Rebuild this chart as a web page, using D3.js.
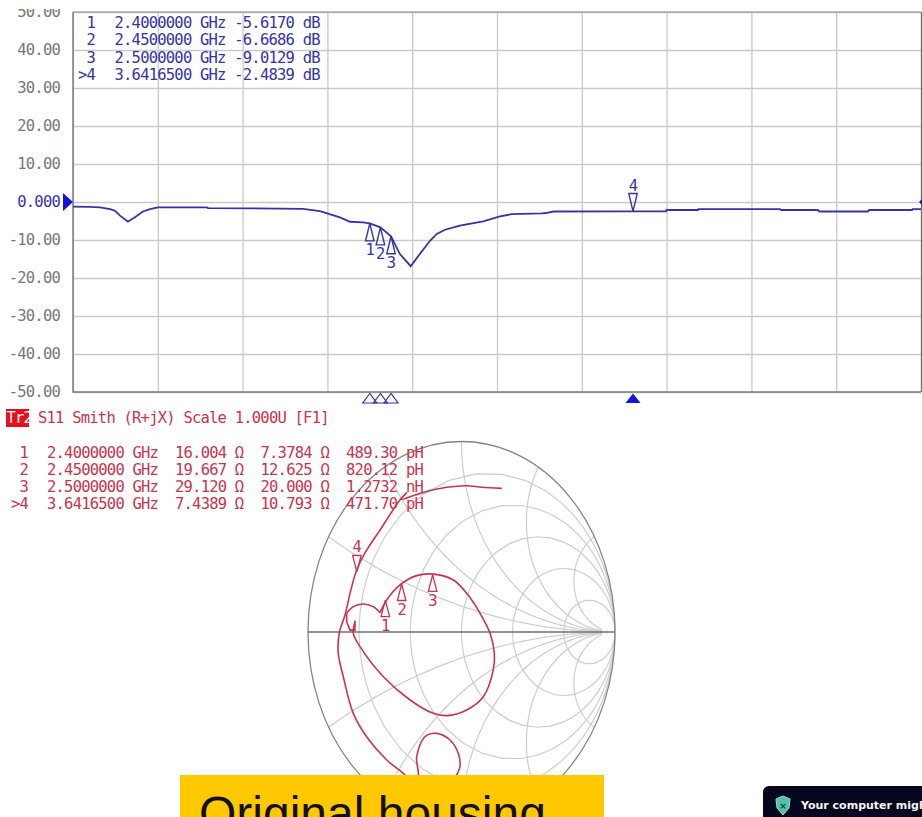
<!DOCTYPE html>
<html>
<head>
<meta charset="utf-8">
<script src="https://cdn.jsdelivr.net/npm/d3@7"></script>
<style>
  html, body { margin: 0; padding: 0; background: #fff; overflow: hidden; }
  text { font-family: "DejaVu Sans Mono", monospace; font-size: 15.5px; letter-spacing: -0.78px; white-space: pre; }
</style>
</head>
<body>
<div id="container"></div>
<script>
// top trace: S11 log mag
const traceFreq = [1, 1.08, 1.127, 1.175, 1.198, 1.222, 1.259, 1.292, 1.33, 1.363, 1.4, 1.632, 1.637, 2.085, 2.165, 2.259, 2.307, 2.368, 2.4, 2.45, 2.5, 2.542, 2.593, 2.637, 2.684, 2.716, 2.755, 2.825, 2.935, 3.014, 3.069, 3.21, 3.23, 3.266, 3.6417, 3.797, 3.8, 3.948, 3.95, 4.335, 4.34, 4.514, 4.52, 4.75, 4.755, 4.958, 4.96, 5];
const traceDb = [-1.2, -1.3, -1.42, -1.85, -2.3, -3.6, -5.2, -4, -2.5, -1.85, -1.42, -1.42, -1.6, -1.8, -2.4, -4.05, -5.2, -5.35, -5.617, -6.669, -9.013, -13.7, -16.9, -13.6, -10.2, -8.4, -7.3, -6.2, -5.1, -3.8, -3.2, -3.0, -2.9, -2.5, -2.484, -2.47, -2.1, -2.1, -1.85, -1.85, -2.1, -2.1, -2.5, -2.5, -2.1, -2.1, -1.85, -1.85];
const xTicks = [1, 1.4, 1.8, 2.2, 2.6, 3, 3.4, 3.8, 4.2, 4.6, 5];
const yTicks = [50, 40, 30, 20, 10, 0, -10, -20, -30, -40, -50];
const yLabels = ["50.00", "40.00", "30.00", "20.00", "10.00", "0.000", "-10.00", "-20.00", "-30.00", "-40.00", "-50.00"];

// markers
const markerNames = ["1", "2", "3", ">4"];
const markerFreq = [2.4, 2.45, 2.5, 3.64165];
const markerDb = [-5.617, -6.6686, -9.0129, -2.4839];
const markerR = [16.004, 19.667, 29.12, 7.4389];
const markerX = [7.3784, 12.625, 20, 10.793];
const markerRText = ["16.004", "19.667", "29.120", "7.4389"];
const markerXText = ["7.3784", "12.625", "20.000", "10.793"];
const markerL = ["489.30 pH", "820.12 pH", "1.2732 nH", "471.70 pH"];

// smith chart trace, read as reflection coefficient (re, im)
const outerRe = [0.262, 0.132, 0.034, -0.096, -0.216, -0.303, -0.39, -0.357, -0.401, -0.531, -0.629, -0.683, -0.726, -0.759, -0.796, -0.803, -0.77, -0.705, -0.618, -0.487, -0.368, -0.329, -0.296, -0.281, -0.292, -0.238, -0.162, -0.075, -0.021, -0.01, -0.031, -0.075];
const outerIm = [0.754, 0.76, 0.768, 0.76, 0.74, 0.719, 0.697, 0.731, 0.693, 0.535, 0.415, 0.325, 0.203, 0.089, -0.005, -0.11, -0.235, -0.427, -0.55, -0.672, -0.751, -0.793, -0.777, -0.751, -0.655, -0.55, -0.532, -0.567, -0.637, -0.707, -0.751, -0.829];
const innerRe = [-0.694, -0.705, -0.661, -0.509, -0.335, -0.184, -0.096, 0.034, 0.142, 0.207, 0.214, 0.186, 0.121, 0.034, -0.053, -0.184, -0.292, -0.401, -0.487, -0.531];
const innerIm = [0.052, -0.007, -0.077, -0.235, -0.357, -0.427, -0.439, -0.409, -0.34, -0.199, -0.112, -0.007, 0.098, 0.203, 0.273, 0.304, 0.296, 0.247, 0.168, 0.101];
const humpRe = [-0.531, -0.575, -0.64, -0.705, -0.748];
const humpIm = [0.101, 0.133, 0.147, 0.133, 0.098];
const notchRe = [-0.694, -0.694, -0.726, -0.748, -0.748];
const notchIm = [0.06, 0.01, 0.01, 0.054, 0.098];

// smith grid
const rCircles = [0.2, 0.5, 1, 2, 5];
const xArcs = [0.268, 0.577, 1, 1.732, 3.732];

const width = 922;
const height = 817;

const blue = "#3434a8";
const red = "#c9344c";
const gray = "#c9c9c9";

const svg = d3.select("#container")
  .append("svg")
  .attr("width", width)
  .attr("height", height)
  .style("display", "block");

/* top chart */
const xScale = d3.scaleLinear().domain([1, 5]).range([73, 921]);
const yScale = d3.scaleLinear().domain([-50, 50]).range([392, 12]);

svg.append("g")
  .attr("transform", "translate(0,392)")
  .call(d3.axisBottom(xScale).tickValues(xTicks).tickSize(-380).tickFormat(""))
  .call(g => g.select(".domain").remove())
  .selectAll("line").attr("stroke", gray).attr("stroke-width", 1.3);

svg.append("g")
  .attr("transform", "translate(73,0)")
  .call(d3.axisLeft(yScale).tickValues(yTicks).tickSize(-848).tickPadding(13).tickFormat((d, i) => yLabels[i]))
  .call(g => g.select(".domain").remove())
  .call(g => g.selectAll("line").attr("stroke", gray).attr("stroke-width", 1.3))
  .call(g => g.selectAll("text").attr("fill", d => d === 0 ? blue : "#777"));

// frame
svg.append("path")
  .attr("d", d3.line()([[xScale(1), yScale(50)], [xScale(1), yScale(-50)], [xScale(5), yScale(-50)]]))
  .attr("fill", "none").attr("stroke", "#7d7d7d").attr("stroke-width", 1.5);
svg.append("line")
  .attr("x1", xScale(1)).attr("x2", xScale(5)).attr("y1", yScale(50)).attr("y2", yScale(50))
  .attr("stroke", "#8c8c8c").attr("stroke-width", 1.2);
svg.append("line")
  .attr("x1", xScale(5) + 0.5).attr("x2", xScale(5) + 0.5).attr("y1", yScale(50)).attr("y2", yScale(-50))
  .attr("stroke", "#6e6e6e").attr("stroke-width", 1.2);

// trace
const traceLine = d3.line()
  .x((d, i) => xScale(traceFreq[i]))
  .y(d => yScale(d));
svg.append("path")
  .attr("d", traceLine(traceDb))
  .attr("fill", "none").attr("stroke", blue).attr("stroke-width", 1.8);

// zero reference arrows
svg.append("path")
  .attr("d", d3.line()([[63, yScale(0) - 9], [73, yScale(0)], [63, yScale(0) + 9]]))
  .attr("fill", "#1414dc");
svg.append("path")
  .attr("d", d3.line()([[922, yScale(0) - 3], [919, yScale(0)], [922, yScale(0) + 3]]))
  .attr("fill", "#1414dc");

function triangle(cx, apexY, w, h) {
  return d3.line()([[cx, apexY], [cx - w / 2, apexY + h], [cx + w / 2, apexY + h]]) + "Z";
}

// markers on the trace
markerFreq.forEach((f, i) => {
  const cx = xScale(f);
  const cy = yScale(markerDb[i]);
  const up = i < 3;
  const h = up ? 17.5 : -18;
  svg.append("path")
    .attr("d", triangle(cx, cy, 8.5, h))
    .attr("fill", "none").attr("stroke", blue).attr("stroke-width", 1.4);
  svg.append("text")
    .attr("x", cx).attr("y", up ? cy + h + 9 : cy + h - 8)
    .attr("dy", "0.36em").attr("text-anchor", "middle")
    .attr("fill", blue)
    .text(markerNames[i].replace(">", ""));
  // small ones under the plot
  svg.append("path")
    .attr("d", triangle(cx, 393.5, up ? 14 : 15, 9.5))
    .attr("fill", up ? "none" : "#1414dc")
    .attr("stroke", up ? blue : "none").attr("stroke-width", 1.2);
});

// blue marker table
const blueRows = svg.append("g").attr("fill", blue);
markerFreq.forEach((f, i) => {
  const y = 22.7 + i * 17.2;
  blueRows.append("text").attr("x", 95).attr("y", y).attr("dy", "0.36em")
    .attr("text-anchor", "end").text(markerNames[i]);
  blueRows.append("text").attr("x", 114.5).attr("y", y).attr("dy", "0.36em")
    .text(f.toFixed(7) + " GHz " + markerDb[i].toFixed(4) + " dB");
});

/* smith chart */
const reScale = d3.scaleLinear().domain([-1, 1]).range([308, 615]);
const imScale = d3.scaleLinear().domain([1, -1]).range([441.5, 822.5]);

// z = r + jx -> reflection coefficient
function gamma(r, x) {
  const d = (r + 1) * (r + 1) + x * x;
  return [(r * r + x * x - 1) / d, 2 * x / d];
}
const smithLine = d3.line()
  .x(d => reScale(d[0]))
  .y(d => imScale(d[1]));
const smithCurve = d3.line()
  .x(d => reScale(d[0]))
  .y(d => imScale(d[1]))
  .curve(d3.curveCatmullRom);

const gridG = svg.append("g").attr("fill", "none").attr("stroke", "#cdcdcd").attr("stroke-width", 1.2);

const sweep = d3.range(0, 1.0001, 0.01).map(t => t * t * t * 400);
rCircles.forEach(r => {
  gridG.append("path").attr("d", smithLine(sweep.map(x => gamma(r, x))));
  gridG.append("path").attr("d", smithLine(sweep.map(x => gamma(r, -x))));
});
xArcs.forEach(x => {
  const rs = d3.range(0, 1.0001, 0.01).map(t => t * t * t * 22);
  gridG.append("path").attr("d", smithLine(rs.map(r => gamma(r, x))));
  gridG.append("path").attr("d", smithLine(rs.map(r => gamma(r, -x))));
});

// outer circle and real axis
svg.append("ellipse")
  .attr("cx", reScale(0)).attr("cy", imScale(0))
  .attr("rx", reScale(1) - reScale(0)).attr("ry", imScale(-1) - imScale(0))
  .attr("fill", "none").attr("stroke", "#858585").attr("stroke-width", 1.3);
svg.append("line")
  .attr("x1", reScale(-1)).attr("x2", reScale(1)).attr("y1", imScale(0)).attr("y2", imScale(0))
  .attr("stroke", "#6f6f6f").attr("stroke-width", 1.3);

// red trace
const traceG = svg.append("g").attr("fill", "none").attr("stroke", red).attr("stroke-width", 1.6);
const pairs = (re, im) => re.map((v, i) => [v, im[i]]);
traceG.append("path").attr("d", smithCurve(pairs(outerRe, outerIm)));
traceG.append("path").attr("d", smithCurve(pairs(innerRe, innerIm)));
traceG.append("path").attr("d", smithCurve(pairs(humpRe, humpIm)));
traceG.append("path").attr("d", smithLine(pairs(notchRe, notchIm)));

// smith markers
markerR.forEach((r, i) => {
  const g = gamma(r / 50, markerX[i] / 50);
  const cx = reScale(g[0]);
  const cy = imScale(g[1]);
  const up = i < 3;
  const h = up ? 16.5 : -16.5;
  svg.append("path")
    .attr("d", triangle(cx, cy, 8.5, h))
    .attr("fill", "none").attr("stroke", red).attr("stroke-width", 1.3);
  svg.append("text")
    .attr("x", cx).attr("y", up ? cy + h + 9 : cy + h - 9)
    .attr("dy", "0.36em").attr("text-anchor", "middle")
    .attr("fill", red)
    .text(markerNames[i].replace(">", ""));
});

// red title
svg.append("rect").attr("x", 6).attr("y", 409).attr("width", 23).attr("height", 18).attr("fill", "#e8101c");
svg.append("text").attr("x", 6.5).attr("y", 417.5).attr("dy", "0.36em").attr("fill", "#fff").text("Tr2");
svg.append("text").attr("x", 38).attr("y", 417.5).attr("dy", "0.36em").attr("fill", red)
  .text("S11 Smith (R+jX) Scale 1.000U [F1]");

// red marker table
const redRows = svg.append("g").attr("fill", red);
markerFreq.forEach((f, i) => {
  const y = 452 + i * 17.3;
  redRows.append("text").attr("x", 28).attr("y", y).attr("dy", "0.36em")
    .attr("text-anchor", "end").text(markerNames[i]);
  redRows.append("text").attr("x", 47).attr("y", y).attr("dy", "0.36em")
    .text(f.toFixed(7) + " GHz");
  redRows.append("text").attr("x", 175).attr("y", y).attr("dy", "0.36em")
    .text(markerRText[i] + " Ω  " + markerXText[i] + " Ω  " + markerL[i]);
});

// yellow caption
svg.append("rect").attr("x", 180).attr("y", 775).attr("width", 424).attr("height", 42).attr("fill", "#ffc800");
svg.append("text").attr("x", 199).attr("y", 830)
  .style("font-family", "'Liberation Sans', Arial, sans-serif").style("font-size", "48px").style("letter-spacing", "0")
  .attr("fill", "#111").text("Original housing");

// popup in the corner
svg.append("rect").attr("x", 763).attr("y", 786).attr("width", 180).attr("height", 60).attr("rx", 6).attr("fill", "#06061f");
svg.append("path")
  .attr("d", "M783 796 L790 799 L789 808 L783 815 L777 808 L776 799 Z")
  .attr("fill", "#4fc4a8").attr("stroke", "#9adccc");
svg.append("text").attr("x", 783).attr("y", 809).attr("text-anchor", "middle")
  .style("font-family", "'DejaVu Sans'").style("font-size", "9px").style("font-weight", "bold").style("letter-spacing", "0")
  .attr("fill", "#1d3a44").text("×");
svg.append("text").attr("x", 801).attr("y", 809)
  .style("font-family", "'DejaVu Sans', sans-serif").style("font-size", "11px").style("font-weight", "bold").style("letter-spacing", "0")
  .attr("fill", "#f4f4f4").text("Your computer migh");

// page top is cut off in the original
svg.append("rect").attr("x", 0).attr("y", 0).attr("width", width).attr("height", 9).attr("fill", "#fff");
</script>
</body>
</html>
